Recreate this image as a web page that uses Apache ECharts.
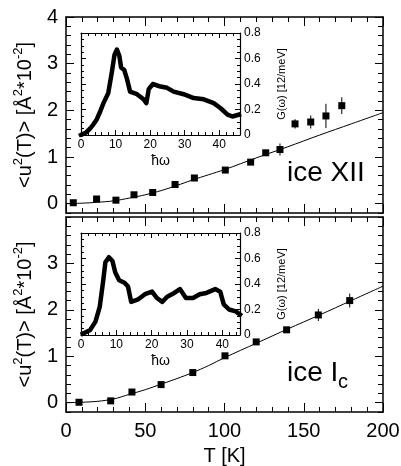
<!DOCTYPE html>
<html>
<head>
<meta charset="utf-8">
<script src="https://cdn.jsdelivr.net/npm/echarts@6/dist/echarts.min.js"></script>
<style>
  html, body { margin: 0; padding: 0; background: #fff; }
  #chart { width: 401px; height: 466px; }
</style>
</head>
<body>
<div id="chart"></div>
<script>
// ice XII, mean square displacement (measured)
const tempXII = [4.6, 19.3, 31.5, 42.9, 54.7, 68.8, 81, 100.5, 116.5, 126, 135, 144.5, 154.4, 164, 174]
const u2XII = [0.02, 0.10, 0.075, 0.19, 0.24, 0.41, 0.55, 0.72, 0.89, 1.09, 1.16, 1.71, 1.75, 1.88, 2.1]
const errXII = [0, 0, 0, 0, 0, 0, 0, 0, 0, 0, 0.13, 0.1, 0.14, 0.26, 0.18]

// ice Ic, mean square displacement (measured)
const tempIc = [8.2, 28.2, 41.6, 60, 80, 100.3, 120, 139.2, 159.2, 179]
const u2Ic = [0.01, 0.04, 0.23, 0.39, 0.65, 1.01, 1.31, 1.57, 1.89, 2.2]
const errIc = [0, 0, 0, 0, 0, 0, 0.03, 0.04, 0.13, 0.15]

// calculated curves
const fitTemp = [0, 10, 20, 30, 40, 50, 60, 70, 80, 90, 100, 120, 140, 160, 180, 200]
const fitXII = [0.0, 0.01, 0.03, 0.06, 0.12, 0.19, 0.28, 0.39, 0.51, 0.62, 0.73, 0.98, 1.22, 1.47, 1.71, 1.95]
const fitIc = [0.0, 0.01, 0.03, 0.08, 0.18, 0.28, 0.40, 0.52, 0.65, 0.80, 0.97, 1.28, 1.59, 1.89, 2.2, 2.51]

// density of states G(w), insets
const omegaXII = [0, 1.5, 2.6, 3.5, 4.5, 5.5, 6.5, 7.9, 8.9, 9.7, 10.4, 11.1, 11.6, 12.5, 13.3, 14.2, 16.2, 18.1, 18.9, 19.6, 20.8, 23, 24.9, 26.8, 29.7, 32.6, 35.5, 38.4, 40.4, 42.4, 43.8, 45.7]
const dosXII = [0, 0.02, 0.05, 0.08, 0.12, 0.18, 0.25, 0.33, 0.49, 0.63, 0.67, 0.62, 0.53, 0.51, 0.44, 0.34, 0.32, 0.28, 0.25, 0.36, 0.40, 0.38, 0.37, 0.34, 0.32, 0.29, 0.28, 0.25, 0.21, 0.16, 0.145, 0.16]
const omegaIc = [0.5, 2.6, 4.1, 5.3, 6.3, 6.9, 7.9, 8.9, 9.7, 10.8, 12.3, 13.3, 14.2, 16.2, 18.1, 20.1, 21.5, 23, 24.4, 26.4, 28, 29.7, 31.7, 33.6, 35.5, 38, 39.4, 40.4, 41.9, 43.8, 45]
const dosIc = [0.01, 0.04, 0.105, 0.22, 0.43, 0.57, 0.61, 0.58, 0.49, 0.43, 0.41, 0.38, 0.26, 0.28, 0.32, 0.34, 0.29, 0.26, 0.30, 0.33, 0.36, 0.29, 0.29, 0.32, 0.33, 0.36, 0.34, 0.24, 0.20, 0.185, 0.16]

const majorXII = [0, 1, 2, 3, 4]
const majorIc = [0, 1, 2, 3]

const FONT = 'Liberation Sans'
const black = { color: '#000' }

function zip(xs, ys) {
  return xs.map((x, i) => [x, ys[i]])
}

function xMain(gridIndex, position, showLabel) {
  return {
    type: 'value', gridIndex, position, min: 0, max: 200, interval: 50,
    axisLine: { onZero: false, lineStyle: { color: '#000', width: 1.5 } },
    axisTick: { inside: true, length: 9, lineStyle: black },
    minorTick: { show: true, splitNumber: 5, length: 5, lineStyle: black },
    axisLabel: { show: showLabel, fontSize: 20, margin: 9, color: '#000', fontFamily: FONT },
    splitLine: { show: false },
    name: showLabel ? 'T [K]' : '',
    nameLocation: 'middle', nameGap: 34,
    nameTextStyle: { fontSize: 20, color: '#000', fontFamily: FONT }
  }
}

const yName = '{n|<u}{s|2}{n|(T)> [Å}{s|2}{n|*10}{s|-2}{n|]}'

function yMain(gridIndex, position, values, showLabel) {
  return {
    type: 'value', gridIndex, position, min: -0.2, max: 4,
    axisLine: { onZero: false, lineStyle: { color: '#000', width: 1.5 } },
    axisTick: { inside: true, length: 8, customValues: values, lineStyle: black },
    axisLabel: { show: showLabel, customValues: values, fontSize: 20, margin: 8, color: '#000', fontFamily: FONT },
    splitLine: { show: false },
    name: showLabel ? yName : '',
    nameLocation: 'middle', nameGap: 24, nameRotate: 90,
    nameTextStyle: {
      rich: {
        n: { fontSize: 20, lineHeight: 28, color: '#000', fontFamily: FONT },
        s: { fontSize: 13, lineHeight: 13, verticalAlign: 'top', color: '#000', fontFamily: FONT }
      }
    }
  }
}

// minor ticks every 0.2 on the main value axes
function yMinor(gridIndex, position) {
  return {
    type: 'value', gridIndex, position, min: -0.2, max: 4, interval: 0.2,
    axisLine: { show: false, onZero: false },
    axisTick: { inside: true, length: 5, lineStyle: black },
    axisLabel: { show: false },
    splitLine: { show: false }
  }
}

function xInset(gridIndex, position, max, showLabel) {
  return {
    type: 'value', gridIndex, position, min: 0, max, interval: 10,
    axisLine: { onZero: false, lineStyle: { color: '#000', width: 1.2 } },
    axisTick: { inside: true, length: 5, lineStyle: black },
    minorTick: { show: true, splitNumber: 5, length: 3, lineStyle: black },
    axisLabel: {
      show: showLabel, fontSize: 12, margin: 4, color: '#000', fontFamily: FONT,
      formatter: (v) => (v % 10 === 0 ? String(v) : '')
    },
    splitLine: { show: false },
    name: showLabel ? 'ħω' : '',
    nameLocation: 'middle', nameGap: 19,
    nameTextStyle: { fontSize: 14, color: '#000', fontFamily: FONT }
  }
}

function yInset(gridIndex, position, showLabel) {
  return {
    type: 'value', gridIndex, position, min: 0, max: 0.8, interval: 0.2,
    axisLine: { onZero: false, lineStyle: { color: '#000', width: 1.2 } },
    axisTick: { inside: true, length: 5, lineStyle: black },
    minorTick: { show: true, splitNumber: 4, length: 3, lineStyle: black },
    axisLabel: { show: showLabel, fontSize: 12, margin: 4, color: '#000', fontFamily: FONT },
    splitLine: { show: false },
    name: showLabel ? 'G(ω) [12/meV]' : '',
    nameLocation: 'middle', nameGap: 36, nameRotate: 90,
    nameTextStyle: { fontSize: 11, color: '#000', fontFamily: FONT }
  }
}

function errorBars(xAxisIndex, yAxisIndex, temps, vals, errs) {
  return {
    type: 'custom', xAxisIndex, yAxisIndex,
    data: temps.map((t, i) => [t, vals[i], errs[i]]),
    renderItem(params, api) {
      const t = api.value(0)
      const v = api.value(1)
      const e = api.value(2)
      const p1 = api.coord([t, v - e])
      const p2 = api.coord([t, v + e])
      return {
        type: 'line',
        shape: { x1: p1[0], y1: p1[1], x2: p2[0], y2: p2[1] },
        style: { stroke: '#000', lineWidth: 1 }
      }
    }
  }
}

function points(xAxisIndex, yAxisIndex, temps, vals) {
  return {
    type: 'scatter', xAxisIndex, yAxisIndex,
    symbol: 'rect', symbolSize: 7,
    itemStyle: { color: '#000', opacity: 1 },
    data: zip(temps, vals)
  }
}

function fitLine(xAxisIndex, yAxisIndex, vals) {
  return {
    type: 'line', xAxisIndex, yAxisIndex, smooth: 0.3,
    symbol: 'none', lineStyle: { color: '#000', width: 1 },
    data: zip(fitTemp, vals)
  }
}

function dosLine(xAxisIndex, yAxisIndex, xs, ys) {
  return {
    type: 'line', xAxisIndex, yAxisIndex,
    symbol: 'none',
    lineStyle: { color: '#000', width: 4.5, join: 'round', cap: 'square' },
    data: zip(xs, ys)
  }
}

const chart = echarts.init(document.getElementById('chart'))

const option = {
  animation: false,
  backgroundColor: '#fff',
  grid: [
    { left: 66, top: 17, width: 317, height: 196, outerBoundsMode: 'none' },
    { left: 66, top: 217, width: 317, height: 195, outerBoundsMode: 'none' },
    { left: 81, top: 33, width: 159, height: 102, outerBoundsMode: 'none' },
    { left: 81, top: 233, width: 159, height: 102, outerBoundsMode: 'none' }
  ],
  xAxis: [
    xMain(0, 'bottom', false),
    xMain(0, 'top', false),
    xMain(1, 'bottom', true),
    xMain(1, 'top', false),
    xInset(2, 'bottom', 46, true),
    xInset(2, 'top', 46, false),
    xInset(3, 'bottom', 45, true),
    xInset(3, 'top', 45, false)
  ],
  yAxis: [
    yMain(0, 'left', majorXII, true),
    yMinor(0, 'left'),
    yMain(0, 'right', majorXII, false),
    yMinor(0, 'right'),
    yMain(1, 'left', majorIc, true),
    yMinor(1, 'left'),
    yMain(1, 'right', majorIc, false),
    yMinor(1, 'right'),
    yInset(2, 'left', false),
    yInset(2, 'right', true),
    yInset(3, 'left', false),
    yInset(3, 'right', true)
  ],
  graphic: [
    {
      type: 'text', left: 287, top: 159,
      style: { text: 'ice XII', font: '28px "Liberation Sans"', fill: '#000' }
    },
    {
      type: 'text', left: 287, top: 359,
      style: { text: 'ice I', font: '28px "Liberation Sans"', fill: '#000' }
    },
    {
      type: 'text', left: 338, top: 372,
      style: { text: 'c', font: '20px "Liberation Sans"', fill: '#000' }
    }
  ],
  series: [
    fitLine(0, 0, fitXII),
    points(0, 0, tempXII, u2XII),
    errorBars(0, 0, tempXII, u2XII, errXII),
    fitLine(2, 4, fitIc),
    points(2, 4, tempIc, u2Ic),
    errorBars(2, 4, tempIc, u2Ic, errIc),
    dosLine(4, 8, omegaXII, dosXII),
    dosLine(6, 10, omegaIc, dosIc)
  ]
}

chart.setOption(option)
</script>
</body>
</html>
